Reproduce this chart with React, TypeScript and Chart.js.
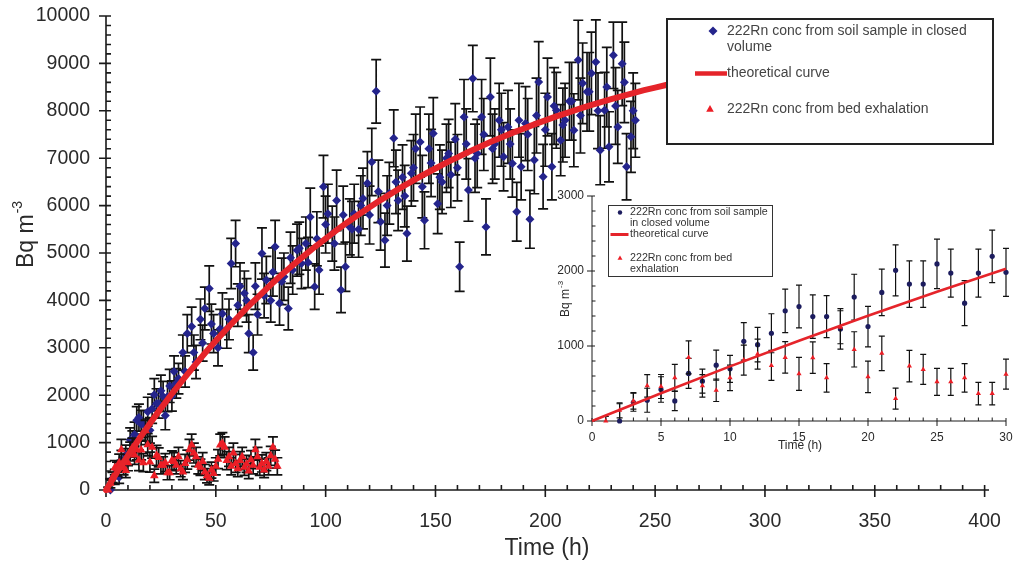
import React, { useEffect, useRef } from "react";
import { Chart, registerables } from "chart.js";

Chart.register(...registerables);

const FONT = '"Liberation Sans", Arial, Helvetica, sans-serif';

// ---------- DATA ----------
// 222Rn conc from soil sample in closed volume (first 30 h, also shown in inset)
const earlyBlueTimes = [2, 3, 4, 5, 6, 7, 8, 9, 10, 11, 12, 13, 14, 15, 16, 17, 18, 19, 20, 21, 22, 23, 24, 25, 26, 27, 28, 29, 30];
const earlyBlueValues = [0, 250, 277, 420, 268, 634, 531, 745, 696, 1062, 1018, 1170, 1469, 1527, 1393, 1393, 1228, 1652, 1259, 1714, 2009, 1826, 1826, 2094, 1973, 1571, 1973, 2196, 1982];
const earlyBlueErrors = [230, 120, 160, 170, 130, 200, 160, 200, 180, 250, 230, 260, 290, 285, 290, 280, 270, 305, 270, 310, 340, 310, 310, 330, 320, 300, 320, 350, 320];

// later soil-sample points (main chart only)
const lateBlueTimes = [
  31, 33, 35, 37, 39, 41, 43, 45, 47, 49, 51, 53, 55, 57, 59, 61, 63, 65, 67, 69,
  71, 73, 75, 77, 79, 81, 83, 85, 87, 89, 91, 93, 95, 97, 99, 101, 103, 105, 107, 109,
  111, 113, 115, 117, 119, 121, 123, 125, 127, 129, 131, 133, 135, 137, 139, 141, 143, 145, 147, 149,
  151, 153, 155, 157, 159, 161, 163, 165, 167, 169, 171, 173, 175, 177, 179, 181, 183, 185, 187, 189,
  191, 193, 195, 197, 199, 201, 203, 205, 207, 209, 211, 213, 215, 217, 219, 221, 223, 225, 227, 229,
  231, 233, 235, 237, 239, 241,
  32, 36, 40, 44, 48, 52, 56, 60, 64, 68, 72, 76, 80, 84, 88, 92, 96, 100, 104, 108,
  112, 116, 120, 124, 128, 132, 136, 140, 144, 148, 152, 156, 160, 164, 168, 172, 176, 180, 184, 188,
  192, 196, 200, 204, 208, 212, 216, 220, 224, 228, 232, 236, 240,
];
const lateBlueValues = [
  2500, 2350, 2900, 3300, 3450, 2700, 3600, 3830, 4250, 3300, 3000, 3720, 3400, 4780, 5200, 4300, 4150, 3300, 2900, 3700,
  4990, 4430, 4000, 5130, 3940, 4500, 3830, 4640, 5060, 4780, 5200, 5760, 4290, 4640, 6400, 5830, 5410, 6110, 4220, 4710,
  5550, 5830, 5500, 6150, 6470, 6920, 8410, 5660, 5270, 6260, 7420, 6110, 6600, 5410, 6680, 7200, 7340, 5690, 7200, 7520,
  6040, 6500, 7000, 6650, 7400, 4710, 7870, 6330, 8680, 7100, 7870, 5550, 8290, 7300, 7800, 7030, 7660, 6890, 5870, 6820,
  7730, 5710, 6960, 8610, 6610, 8290, 6820, 8010, 7380, 7800, 8200, 7590, 9070, 8580, 8400, 8790, 9030, 7170, 8010, 7240,
  9170, 7660, 8990, 6820, 7450, 7800,
  2250, 2500, 2900, 3100, 3500, 3400, 3600, 3900, 4000, 4300, 4100, 4600, 4400, 4900, 5100, 4800, 5300, 5600, 5200, 5800,
  5500, 6000, 5800, 6300, 6000, 6500, 6200, 6800, 6400, 6900, 6600, 7100, 6800, 7300, 7000, 7500, 7200, 7600, 7300, 7800,
  7500, 7900, 7600, 8100, 7700, 8200, 7900, 8400, 8000, 8500, 8100, 8600, 8000,
];
const lateBlueErrors = [
  330, 320, 370, 400, 410, 350, 430, 450, 480, 400, 380, 440, 410, 530, 490, 490, 470, 400, 370, 430,
  540, 500, 460, 560, 460, 500, 450, 510, 550, 530, 560, 610, 480, 510, 660, 620, 580, 640, 480, 520,
  590, 620, 590, 640, 670, 710, 670, 600, 570, 650, 600, 640, 680, 580, 690, 730, 740, 600, 730, 760,
  630, 670, 720, 690, 750, 520, 790, 660, 700, 720, 790, 590, 820, 740, 780, 720, 770, 710, 620, 700,
  780, 610, 710, 850, 680, 820, 700, 800, 750, 780, 820, 770, 840, 850, 830, 870, 890, 730, 800, 740,
  700, 770, 880, 700, 750, 780,
  310, 330, 370, 380, 420, 410, 430, 450, 460, 490, 470, 510, 490, 540, 550, 530, 570, 600, 560, 610,
  590, 630, 610, 660, 630, 670, 650, 700, 660, 710, 680, 720, 700, 740, 720, 760, 730, 770, 740, 780,
  760, 790, 770, 810, 780, 820, 790, 830, 800, 840, 810, 850, 800,
];

// 222Rn conc from bed exhalation
const redTimes = [
  1, 2, 3, 4, 5, 6, 7, 8, 9, 10, 11, 12, 13, 14, 15, 16, 17, 18, 19, 20, 21, 22, 23, 24, 25, 26, 27, 28, 29, 30,
  31, 32, 33, 34, 35, 36, 37, 38, 39, 40, 41, 42, 43, 44, 45, 46, 47, 48, 49, 50,
  51, 52, 53, 54, 55, 56, 57, 58, 59, 60, 61, 62, 63, 64, 65, 66, 67, 68, 69, 70,
  71, 72, 73, 74, 75, 76, 77, 78,
];
const redValues = [
  0, 143, 268, 469, 460, 576, 848, 469, 410, 576, 812, 893, 741, 848, 629, 844, 576, 1250, 955, 589, 902, 299, 732, 688, 522, 522, 576, 366, 366, 625,
  600, 520, 700, 450, 380, 560, 640, 850, 950, 780, 700, 520, 480, 600, 380, 300, 250, 420, 350, 500,
  650, 950, 980, 900, 620, 700, 500, 780, 560, 450, 620, 700, 480, 550, 400, 640, 520, 850, 700, 480,
  560, 420, 600, 500, 720, 900, 650, 500,
];
const redErrors = [
  60, 100, 110, 150, 160, 180, 220, 150, 150, 170, 200, 200, 200, 210, 220, 210, 190, 220, 235, 210, 230, 140, 210, 200, 180, 180, 190, 150, 150, 200,
  190, 180, 200, 170, 160, 190, 200, 220, 230, 210, 200, 180, 170, 190, 160, 150, 140, 170, 160, 180,
  200, 230, 230, 220, 190, 200, 180, 210, 190, 170, 190, 200, 170, 180, 160, 190, 180, 220, 200, 170,
  180, 160, 190, 180, 200, 220, 190, 180,
];

// theoretical curve
const curveTimes = [0, 5, 10, 15, 20, 25, 30, 35, 40, 45, 50, 55, 60, 65, 70, 75, 80, 85, 90, 95, 100, 105, 110, 115, 120, 125, 130, 135, 140, 145, 150, 155, 160, 165, 170, 175, 180, 185, 190, 195, 200, 205, 210, 215, 220, 225, 230, 235, 240, 245, 250, 255];
const curveValues = [0, 371, 728, 1071, 1404, 1722, 2030, 2325, 2608, 2884, 3147, 3402, 3645, 3883, 4107, 4329, 4540, 4743, 4935, 5126, 5305, 5481, 5650, 5811, 5965, 6116, 6258, 6400, 6530, 6662, 6782, 6906, 7017, 7131, 7234, 7340, 7435, 7534, 7622, 7714, 7797, 7881, 7958, 8035, 8107, 8179, 8246, 8311, 8375, 8435, 8490, 8545];

// ticks
const mainXTicks = [0, 50, 100, 150, 200, 250, 300, 350, 400];
const mainYTicks = [0, 1000, 2000, 3000, 4000, 5000, 6000, 7000, 8000, 9000, 10000];
const insetXTicks = [0, 5, 10, 15, 20, 25, 30];
const insetYTicks = [0, 1000, 2000, 3000];

const legendSoil = ["222Rn conc from soil sample in closed", "volume"];
const legendCurve = "theoretical curve";
const legendBed = "222Rn conc from bed exhalation";
const insetLegendSoil = ["222Rn conc from soil sample", "in closed volume"];
const insetLegendBed = ["222Rn conc from bed", "exhalation"];

// ---------- helpers ----------
const BLUE = "#24248c";
const RED = "#ec1e26";
const CURVE = "#e5242a";

function pts(xs: number[], ys: number[]) {
  return xs.map((x, i) => ({ x, y: ys[i] }));
}

function errorBarPlugin(capHalf: number, lw: number) {
  return {
    id: "errbars",
    beforeDatasetDraw(chart: any, args: any) {
      const ds = chart.data.datasets[args.index];
      if (!ds.errors) return;
      const ctx = chart.ctx;
      const xs = chart.scales.x;
      const ys = chart.scales.y;
      const a = chart.chartArea;
      ctx.save();
      ctx.beginPath();
      ctx.rect(a.left - 20, a.top - 20, a.right - a.left + 40, a.bottom - a.top + 20);
      ctx.clip();
      ctx.strokeStyle = "#111";
      ctx.lineWidth = lw;
      ctx.beginPath();
      ds.data.forEach((p: any, i: number) => {
        const e = ds.errors[i];
        const x = xs.getPixelForValue(p.x);
        const y1 = ys.getPixelForValue(p.y + e);
        const y2 = ys.getPixelForValue(p.y - e);
        ctx.moveTo(x, y1);
        ctx.lineTo(x, y2);
        ctx.moveTo(x - capHalf, y1);
        ctx.lineTo(x + capHalf, y1);
        ctx.moveTo(x - capHalf, y2);
        ctx.lineTo(x + capHalf, y2);
      });
      ctx.stroke();
      ctx.restore();
    },
  };
}

type AxisCfg = {
  xTicks: number[];
  yTicks: number[];
  xMinor: number;
  yMinor: number;
  lw: number;
  majorOut: number;
  majorIn: number;
  minorIn: number;
  fontPx: number;
  yLabelRight: number;
  xLabelY: number;
};

function axesPlugin(cfg: AxisCfg) {
  return {
    id: "axesDraw",
    beforeDatasetsDraw(chart: any) {
      const ctx = chart.ctx;
      const a = chart.chartArea;
      const xs = chart.scales.x;
      const ys = chart.scales.y;
      ctx.save();
      ctx.strokeStyle = "#1a1a1a";
      ctx.lineWidth = cfg.lw;
      ctx.beginPath();
      ctx.moveTo(a.left, a.top);
      ctx.lineTo(a.left, a.bottom);
      ctx.lineTo(a.right, a.bottom);
      const yMax = ys.max;
      for (let v = 0; v <= yMax + 1e-6; v += cfg.yMinor) {
        const y = ys.getPixelForValue(v);
        const major = cfg.yTicks.some((t) => Math.abs(t - v) < 1e-6);
        if (major) {
          ctx.moveTo(a.left - cfg.majorOut, y);
          ctx.lineTo(a.left + cfg.majorIn, y);
        } else {
          ctx.moveTo(a.left, y);
          ctx.lineTo(a.left + cfg.minorIn, y);
        }
      }
      const xMax = xs.max;
      for (let v = 0; v <= xMax + 1e-6; v += cfg.xMinor) {
        const x = xs.getPixelForValue(v);
        const major = cfg.xTicks.some((t) => Math.abs(t - v) < 1e-6);
        if (major) {
          ctx.moveTo(x, a.bottom + cfg.majorOut);
          ctx.lineTo(x, a.bottom - cfg.majorIn);
        } else {
          ctx.moveTo(x, a.bottom);
          ctx.lineTo(x, a.bottom - cfg.minorIn);
        }
      }
      ctx.stroke();

      ctx.fillStyle = "#2a2a2a";
      ctx.font = `${cfg.fontPx}px ${FONT}`;
      ctx.textAlign = "right";
      ctx.textBaseline = "middle";
      cfg.yTicks.forEach((t) => {
        ctx.fillText(String(t), cfg.yLabelRight, ys.getPixelForValue(t));
      });
      ctx.textAlign = "center";
      cfg.xTicks.forEach((t) => {
        ctx.fillText(String(t), xs.getPixelForValue(t), cfg.xLabelY);
      });
      ctx.restore();
    },
  };
}

function drawDiamond(ctx: CanvasRenderingContext2D, x: number, y: number, r: number) {
  ctx.beginPath();
  ctx.moveTo(x, y - r);
  ctx.lineTo(x + r, y);
  ctx.lineTo(x, y + r);
  ctx.lineTo(x - r, y);
  ctx.closePath();
  ctx.fill();
}

function drawTriangle(ctx: CanvasRenderingContext2D, x: number, y: number, r: number) {
  ctx.beginPath();
  ctx.moveTo(x, y - r);
  ctx.lineTo(x + r * 0.95, y + r * 0.7);
  ctx.lineTo(x - r * 0.95, y + r * 0.7);
  ctx.closePath();
  ctx.fill();
}

function drawYTitle(ctx: CanvasRenderingContext2D, x: number, yBottom: number, px: number, supPx: number, supRise: number) {
  ctx.save();
  ctx.translate(x, yBottom);
  ctx.rotate(-Math.PI / 2);
  ctx.fillStyle = "#2a2a2a";
  ctx.textAlign = "left";
  ctx.textBaseline = "middle";
  ctx.font = `${px}px ${FONT}`;
  const main = "Bq m";
  ctx.fillText(main, 0, 0);
  const w = ctx.measureText(main).width;
  ctx.font = `${supPx}px ${FONT}`;
  ctx.fillText("-3", w + 1, -supRise);
  ctx.restore();
}

const mainDecor = {
  id: "mainDecor",
  afterDatasetsDraw(chart: any) {
    const ctx: CanvasRenderingContext2D = chart.ctx;
    ctx.save();
    // legend box
    ctx.fillStyle = "#ffffff";
    ctx.fillRect(666, 18, 328, 127);
    ctx.strokeStyle = "#222";
    ctx.lineWidth = 2;
    ctx.strokeRect(667, 19, 326, 125);
    ctx.fillStyle = BLUE;
    drawDiamond(ctx, 713, 31, 4.5);
    ctx.strokeStyle = CURVE;
    ctx.lineWidth = 4.5;
    ctx.beginPath();
    ctx.moveTo(695, 73.5);
    ctx.lineTo(727, 73.5);
    ctx.stroke();
    ctx.fillStyle = RED;
    drawTriangle(ctx, 710, 109, 4);
    ctx.fillStyle = "#444";
    ctx.font = `14px ${FONT}`;
    ctx.textAlign = "left";
    ctx.textBaseline = "middle";
    ctx.fillText(legendSoil[0], 727, 31);
    ctx.fillText(legendSoil[1], 727, 47);
    ctx.fillText(legendCurve, 727, 73.5);
    ctx.fillText(legendBed, 727, 109);

    // axis titles
    ctx.fillStyle = "#2a2a2a";
    ctx.font = `23px ${FONT}`;
    ctx.textAlign = "center";
    ctx.textBaseline = "middle";
    ctx.fillText("Time (h)", 547, 549);
    ctx.restore();
    drawYTitle(ctx, 27, 268, 23, 14, 9);
  },
};

const insetDecor = {
  id: "insetDecor",
  afterDatasetsDraw(chart: any) {
    const ctx: CanvasRenderingContext2D = chart.ctx;
    ctx.save();
    ctx.fillStyle = "#ffffff";
    ctx.fillRect(78.5, 25.5, 164, 71);
    ctx.strokeStyle = "#333";
    ctx.lineWidth = 1;
    ctx.strokeRect(78.5, 25.5, 164, 71);
    ctx.fillStyle = "#1c1c5e";
    ctx.beginPath();
    ctx.arc(90, 32.5, 2.2, 0, Math.PI * 2);
    ctx.fill();
    ctx.strokeStyle = CURVE;
    ctx.lineWidth = 3;
    ctx.beginPath();
    ctx.moveTo(80.5, 54.5);
    ctx.lineTo(98.5, 54.5);
    ctx.stroke();
    ctx.fillStyle = RED;
    drawTriangle(ctx, 90, 78, 2.6);
    ctx.fillStyle = "#333";
    ctx.font = `10.7px ${FONT}`;
    ctx.textAlign = "left";
    ctx.textBaseline = "middle";
    ctx.fillText(insetLegendSoil[0], 100, 32.5);
    ctx.fillText(insetLegendSoil[1], 100, 43.5);
    ctx.fillText(legendCurve, 100, 54.5);
    ctx.fillText(insetLegendBed[0], 100, 78);
    ctx.fillText(insetLegendBed[1], 100, 89);

    ctx.fillStyle = "#2a2a2a";
    ctx.font = `12px ${FONT}`;
    ctx.textAlign = "center";
    ctx.fillText("Time (h)", 270, 266);
    ctx.restore();
    drawYTitle(ctx, 36, 137, 12, 8, 5);
  },
};

function mainConfig(): any {
  return {
    type: "scatter",
    data: {
      datasets: [
        {
          label: "theoretical curve",
          data: pts(curveTimes, curveValues),
          showLine: true,
          borderColor: CURVE,
          borderWidth: 6,
          borderCapStyle: "round",
          pointRadius: 0,
          order: 0,
          clip: false,
        },
        {
          label: "222Rn conc from bed exhalation",
          data: pts(redTimes, redValues),
          errors: redErrors,
          pointStyle: "triangle",
          pointRadius: 5,
          backgroundColor: RED,
          borderColor: RED,
          borderWidth: 0,
          order: 1,
          clip: false,
        },
        {
          label: "222Rn conc from soil sample in closed volume",
          data: pts(earlyBlueTimes.concat(lateBlueTimes), earlyBlueValues.concat(lateBlueValues)),
          errors: earlyBlueErrors.concat(lateBlueErrors),
          pointStyle: "rectRot",
          pointRadius: 4.5,
          backgroundColor: BLUE,
          borderColor: BLUE,
          borderWidth: 0,
          order: 2,
          clip: false,
        },
      ],
    },
    options: {
      responsive: false,
      animation: false,
      devicePixelRatio: 1,
      layout: { padding: { top: 16, right: 30, left: 0, bottom: 0 } },
      plugins: { legend: { display: false }, tooltip: { enabled: false } },
      scales: {
        x: {
          type: "linear",
          min: 0,
          max: 402,
          grid: { display: false, drawTicks: false },
          border: { display: false },
          ticks: { display: false },
          afterFit: (s: any) => {
            s.height = 77;
          },
        },
        y: {
          type: "linear",
          min: 0,
          max: 10000,
          grid: { display: false, drawTicks: false },
          border: { display: false },
          ticks: { display: false },
          afterFit: (s: any) => {
            s.width = 106;
          },
        },
      },
    },
    plugins: [
      axesPlugin({
        xTicks: mainXTicks,
        yTicks: mainYTicks,
        xMinor: 10,
        yMinor: 200,
        lw: 1.6,
        majorOut: 7,
        majorIn: 5,
        minorIn: 5,
        fontPx: 19.5,
        yLabelRight: 90,
        xLabelY: 522,
      }),
      errorBarPlugin(5, 1.7),
      mainDecor,
    ],
  };
}

function insetConfig(): any {
  const cT: number[] = [];
  const cV: number[] = [];
  curveTimes.forEach((t, i) => {
    if (t <= 30) {
      cT.push(t);
      cV.push(curveValues[i]);
    }
  });
  const rT: number[] = [];
  const rV: number[] = [];
  const rE: number[] = [];
  redTimes.forEach((t, i) => {
    if (t <= 30) {
      rT.push(t);
      rV.push(redValues[i]);
      rE.push(redErrors[i]);
    }
  });
  return {
    type: "scatter",
    data: {
      datasets: [
        {
          label: "theoretical curve",
          data: pts(cT, cV),
          showLine: true,
          borderColor: CURVE,
          borderWidth: 2.6,
          pointRadius: 0,
          order: 0,
          clip: false,
        },
        {
          label: "222Rn conc from bed exhalation",
          data: pts(rT, rV),
          errors: rE,
          pointStyle: "triangle",
          pointRadius: 3,
          backgroundColor: RED,
          borderColor: RED,
          borderWidth: 0,
          order: 1,
          clip: false,
        },
        {
          label: "222Rn conc from soil sample in closed volume",
          data: pts(earlyBlueTimes, earlyBlueValues),
          errors: earlyBlueErrors,
          pointStyle: "circle",
          pointRadius: 2.6,
          backgroundColor: "#1c1c5e",
          borderColor: "#1c1c5e",
          borderWidth: 0,
          order: 2,
          clip: false,
        },
      ],
    },
    options: {
      responsive: false,
      animation: false,
      devicePixelRatio: 1,
      layout: { padding: { top: 16, right: 13, left: 0, bottom: 0 } },
      plugins: { legend: { display: false }, tooltip: { enabled: false } },
      scales: {
        x: {
          type: "linear",
          min: 0,
          max: 30,
          grid: { display: false, drawTicks: false },
          border: { display: false },
          ticks: { display: false },
          afterFit: (s: any) => {
            s.height = 39;
          },
        },
        y: {
          type: "linear",
          min: 0,
          max: 3000,
          grid: { display: false, drawTicks: false },
          border: { display: false },
          ticks: { display: false },
          afterFit: (s: any) => {
            s.width = 62;
          },
        },
      },
    },
    plugins: [
      axesPlugin({
        xTicks: insetXTicks,
        yTicks: insetYTicks,
        xMinor: 1,
        yMinor: 200,
        lw: 1,
        majorOut: 5,
        majorIn: 3,
        minorIn: 3.5,
        fontPx: 12,
        yLabelRight: 54,
        xLabelY: 258,
      }),
      errorBarPlugin(3, 1.2),
      insetDecor,
    ],
  };
}

export default function App() {
  const mainRef = useRef<HTMLCanvasElement>(null);
  const insetRef = useRef<HTMLCanvasElement>(null);
  useEffect(() => {
    const main = new Chart(mainRef.current as HTMLCanvasElement, mainConfig());
    const inset = new Chart(insetRef.current as HTMLCanvasElement, insetConfig());
    return () => {
      main.destroy();
      inset.destroy();
    };
  }, []);
  return (
    <div style={{ position: "absolute", left: 0, top: 0, width: 1019, height: 567, background: "#fff", overflow: "hidden" }}>
      <canvas ref={mainRef} width={1019} height={567} style={{ position: "absolute", left: 0, top: 0, width: 1019, height: 567 }} />
      <canvas ref={insetRef} width={489} height={280} style={{ position: "absolute", left: 530, top: 180, width: 489, height: 280 }} />
    </div>
  );
}
